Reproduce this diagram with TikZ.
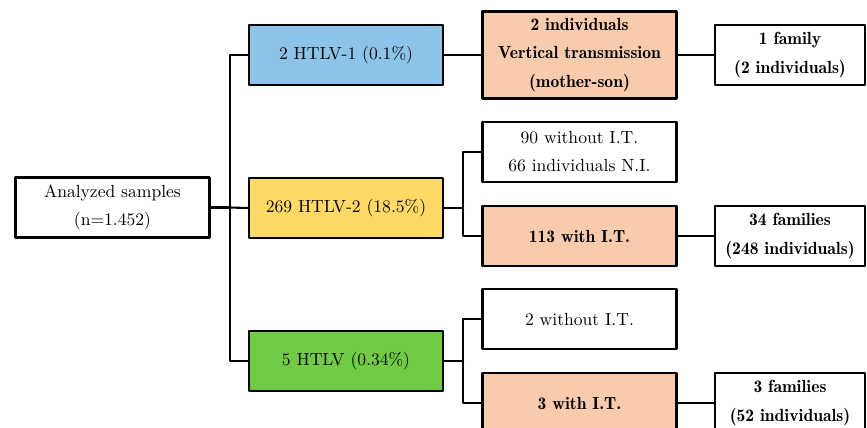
\documentclass[tikz,border=0pt]{standalone}
\usetikzlibrary{positioning}

\definecolor{htlvblue}{RGB}{139,196,232}
\definecolor{htlvyellow}{RGB}{255,217,102}
\definecolor{htlvgreen}{RGB}{112,204,68}
\definecolor{itpeach}{RGB}{248,203,173}

\begin{document}
\begin{tikzpicture}[x=0.02cm, y=-0.02cm, line cap=round, line join=round,
  box/.style={draw, line width=1.5pt, minimum width=3.88cm, minimum height=1.2cm,
    align=center, font=\fontsize{10}{16}\selectfont, inner sep=1pt},
  famBox/.style={box, minimum width=3.0cm, font=\fontsize{10}{16}\fontseries{b}\selectfont},
  itBox/.style={box, fill=itpeach, font=\fontsize{10}{16}\fontseries{b}\selectfont},
  link/.style={line width=1.2pt}]

  \useasboundingbox (0,0) rectangle (867,427);
  \clip (0,0) rectangle (867,427);

  % Parameters (column centres and joints, in pixels)
  \def\xA{112.5}   % analyzed samples
  \def\xB{346}     % HTLV types
  \def\xC{579.5}   % I.T. split
  \def\xD{790}     % families
  \coordinate (trunk) at (230,0);
  \coordinate (fork) at (463,0);

  % ---- Root ----
  \node[box] (ana) at (\xA,207.5) {Analyzed samples\\(n=1.452)};

  % ---- HTLV types ----
  \node[box, fill=htlvblue]   (htlvA) at (\xB,55)  {2 HTLV-1 (0.1\%)};
  \node[box, fill=htlvyellow] (htlvB) at (\xB,208) {269 HTLV-2 (18.5\%)};
  \node[box, fill=htlvgreen]  (htlvC) at (\xB,361) {5 HTLV (0.34\%)};

  % ---- Transmission ----
  \node[itBox, minimum height=1.74cm] (vert) at (\xC,55)
    {2 individuals\\Vertical transmission\\(mother-son)};
  \node[box]  (noitB) at (\xC,152) {90 without I.T.\\66 individuals N.I.};
  \node[itBox] (itB)  at (\xC,236) {113 with I.T.};
  \node[box]  (noitC) at (\xC,319) {2 without I.T.};
  \node[itBox] (itC)  at (\xC,403) {3 with I.T.};

  % ---- Families ----
  \node[famBox] (famA) at (\xD,55)  {1 family\\(2 individuals)};
  \node[famBox] (famB) at (\xD,236) {34 families\\(248 individuals)};
  \node[famBox] (famC) at (\xD,403) {3 families\\(52 individuals)};

  % ---- Connectors ----
  \draw[link, line width=1.8pt] (ana.east) -- (ana.east -| trunk);
  \draw[link] (ana.east -| trunk) -- (htlvB.west);
  \draw[link] (htlvA.west) -- (htlvA.west -| trunk) -- (htlvC.west -| trunk) -- (htlvC.west);

  \draw[link] (htlvA.east) -- (vert.west);
  \draw[link] (vert.east) -- (famA.west);

  \draw[link] (htlvB.east) -- (htlvB.east -| fork);
  \draw[link] (noitB.west) -- (noitB.west -| fork) -- (itB.west -| fork) -- (itB.west);
  \draw[link] (itB.east) -- (famB.west);

  \draw[link] (htlvC.east) -- (htlvC.east -| fork);
  \draw[link] (noitC.west) -- (noitC.west -| fork) -- (itC.west -| fork) -- (itC.west);
  \draw[link] (itC.east) -- (famC.west);

\end{tikzpicture}
\end{document}
